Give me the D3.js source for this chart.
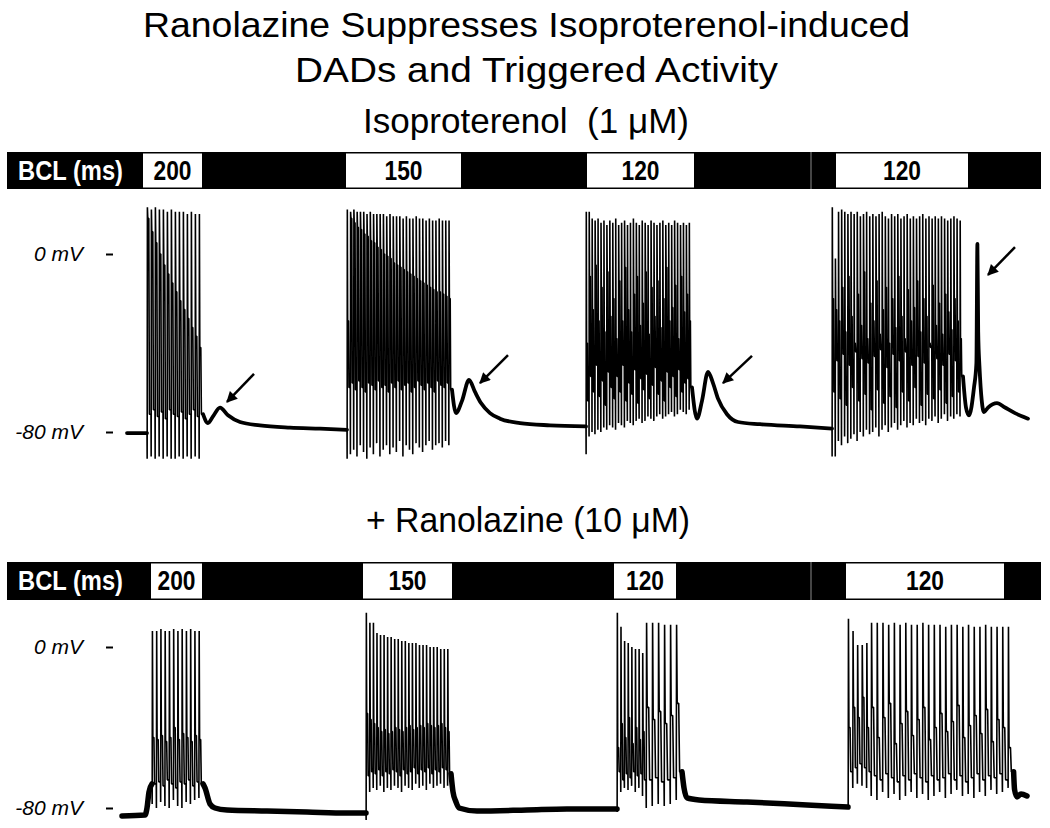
<!DOCTYPE html>
<html><head><meta charset="utf-8">
<script src="https://cdn.jsdelivr.net/npm/d3@7"></script>
<style>body{margin:0;background:#fff}svg{display:block}text{font-family:"Liberation Sans",Arial,sans-serif}</style>
</head><body>
<svg id="c" width="1050" height="828"></svg>
<script>
// ---------------- DATA ----------------
const titleLines = ["Ranolazine Suppresses Isoproterenol-induced", "DADs and Triggered Activity", "Isoproterenol  (1 \u03bcM)"];
const subTitle = "+ Ranolazine (10 \u03bcM)";
const bclTitle = "BCL (ms)";
const bclLabels = ["200", "150", "120", "120"];
const axisTicks = [0, -80];

// stimulation windows (s)
const isoBoxStart = [0.8, 10.95, 23.0, 35.45];
const isoBoxEnd   = [3.75, 16.7, 28.35, 42.05];
const ranBoxStart = [1.2, 11.8, 24.35, 35.95];
const ranBoxEnd   = [3.75, 16.25, 27.45, 43.85];

// beats: [artifact low, peak, plateau, trough] (mV)
const isoBeats200 = [[-92,21,16,-72],[-91,20,10,-70],[-92,21,5,-73],[-91,20,0,-71],[-92,20,-5,-74],[-91,19,-9,-70],[-92,20,-13,-72],[-92,19,-17,-73],[-91,19,-21,-71],[-92,19,-25,-74],[-91,18,-29,-72],[-92,19,-33,-70],[-91,18,-37,-73],[-92,18,-42,-72]];
const isoBeats150 = [[-92,20,-30,-60],[-90,19,16,-58],[-88,20,14,-61],[-91,19,12,-57],[-86,19,11,-60],[-89,19,9,-62],[-92,18,8,-58],[-87,19,6,-59],[-90,18,5,-61],[-85,18,3,-57],[-91,18,2,-60],[-88,18,0,-59],[-86,17,-1,-62],[-90,18,-2,-58],[-87,17,-4,-60],[-89,17,-5,-57],[-84,17,-6,-61],[-91,16,-7,-59],[-86,17,-8,-58],[-88,16,-9,-62],[-90,16,-10,-60],[-85,17,-11,-57],[-87,16,-12,-59],[-89,16,-13,-61],[-86,15,-14,-58],[-84,16,-15,-60],[-88,15,-16,-62],[-86,15,-17,-57],[-85,16,-17,-59],[-87,15,-18,-60],[-84,15,-19,-58],[-86,15,-20,-61]];
const isoBeats120a = [[-90,19,-40,-66],[-82,19,-10,-55],[-80,16,-25,-62],[-81,15,-5,-50],[-79,16,-30,-64],[-80,14,-15,-57],[-78,15,-35,-68],[-79,13,-8,-53],[-77,15,-28,-60],[-78,14,-20,-65],[-79,16,-38,-55],[-76,13,-12,-62],[-77,14,-30,-50],[-78,15,-6,-66],[-75,13,-25,-58],[-76,14,-35,-63],[-77,16,-18,-52],[-75,14,-10,-67],[-74,13,-32,-56],[-76,15,-22,-61],[-75,14,-8,-54],[-73,13,-36,-65],[-74,15,-15,-59],[-75,14,-28,-51],[-73,13,-12,-63],[-72,14,-33,-57],[-74,15,-20,-66],[-73,13,-6,-53],[-72,14,-30,-60],[-71,13,-24,-55],[-73,15,-14,-64],[-72,14,-38,-52],[-70,13,-10,-62],[-71,14,-26,-58],[-72,13,-18,-56],[-70,14,-30,-60]];
const isoBeats120b = [[-91,21,-20,-62],[-91,-2,-25,-48],[-84,19,-30,-65],[-86,20,-15,-45],[-82,19,-35,-68],[-85,18,-10,-50],[-83,19,-28,-60],[-81,18,-40,-44],[-84,19,-18,-66],[-80,17,-32,-47],[-82,18,-8,-63],[-79,19,-38,-49],[-81,17,-22,-70],[-80,18,-30,-46],[-78,17,-12,-61],[-82,18,-36,-43],[-79,19,-25,-67],[-77,17,-15,-51],[-80,16,-40,-64],[-78,18,-20,-45],[-76,17,-33,-69],[-79,18,-10,-48],[-77,16,-28,-62],[-75,17,-38,-44],[-78,18,-16,-66],[-76,16,-30,-50],[-77,17,-24,-60],[-74,16,-12,-46],[-76,17,-35,-68],[-75,18,-20,-49],[-77,16,-28,-63],[-74,17,-40,-42],[-75,16,-14,-65],[-73,17,-32,-47],[-76,16,-22,-61],[-74,17,-36,-50],[-72,16,-18,-67],[-75,15,-26,-45],[-73,16,-34,-64],[-74,17,-20,-48],[-72,16,-30,-62],[-73,15,-38,-55]];
const isoBurstStart = [1.0, 11.0, 22.95, 35.25];
const isoBurstEnd   = [3.8, 16.25, 28.25, 41.8];

// slow (quiescent) parts: [t (s), mV]
const isoPre     = [[0,-80.5],[1.0,-80.5]];
const isoPost200 = [[3.8,-72],[4.05,-76],[4.3,-73],[4.65,-69],[5.05,-72.5],[5.65,-75.5],[6.65,-77],[8.15,-78],[9.65,-78.5],[11.0,-79]];
const isoPost150 = [[16.25,-61],[16.45,-71.5],[16.75,-66],[17.1,-56.6],[17.4,-62],[17.7,-67],[18.15,-71.5],[18.65,-74],[19.65,-76],[21.15,-77],[22.95,-77.5]];
const isoPost120a = [[28.25,-60],[28.5,-74],[28.75,-66],[29.05,-53],[29.3,-58],[29.55,-65],[30,-72],[30.55,-75.5],[31.65,-76.5],[33.65,-77.5],[35.25,-78.5]];
const isoPost120b = [[41.8,-55],[41.95,-69],[42.1,-72.5],[42.35,-60],[42.47,-49],[42.52,4.5],[42.56,-35],[42.62,-50],[42.85,-71],[43.05,-69],[43.5,-67],[43.9,-69],[44.4,-71.5],[45.05,-74]];

const ranBeats200 = [[-78,8,-45,-68],[-80,8,-46,-67],[-77,9,-44,-69],[-79,8,-47,-66],[-80,8,-45,-68],[-76,9,-40,-70],[-79,8,-46,-67],[-80,9,-43,-68],[-77,8,-45,-66],[-78,9,-47,-69],[-76,8,-44,-67],[-75,8,-46,-68]];
const ranBeats150 = [[-86,17,-33,-64],[-72,12,-36,-62],[-70,12,-38,-63],[-71,7,-40,-61],[-69,6,-42,-64],[-72,6,-41,-62],[-70,5,-43,-63],[-71,5,-42,-61],[-69,4,-40,-62],[-70,4,-41,-64],[-72,3,-42,-61],[-69,3,-40,-63],[-70,2,-39,-62],[-71,2,-41,-60],[-68,2,-40,-63],[-70,1,-39,-61],[-69,1,-40,-62],[-71,1,-38,-60],[-68,0,-39,-63],[-70,0,-40,-61],[-69,0,-39,-62],[-68,-1,-38,-60],[-70,-1,-40,-61],[-69,-1,-42,-63]];
const ranBeats120a1 = [[-82,17,-50,-62],[-72,10,-38,-66],[-70,3,-45,-63],[-71,2,-35,-65],[-69,0,-48,-62],[-72,-1,-40,-64],[-70,-1,-46,-63],[-74,-3,-42,-66]];
const ranBeats120a2 = [[-80,12,-30,-66],[-79,12,-36,-65],[-78,12,-32,-67],[-79,11,-38,-66],[-78,11,-34,-65],[-76,11,-28,-62]];
const ranBeats120b1 = [[-80,14,-40,-62],[-70,8,-30,-60],[-68,1,-35,-58],[-69,1,-25,-60],[-70,2,-40,-62]];
const ranBeats120b2 = [[-74,12,-30,-64],[-76,12,-45,-66],[-72,12,-35,-63],[-75,11,-28,-65],[-73,12,-48,-67],[-76,11,-38,-64],[-74,12,-32,-66],[-72,11,-44,-63],[-75,11,-36,-65],[-73,12,-30,-67],[-76,11,-46,-64],[-74,11,-40,-66],[-72,11,-33,-65],[-75,10,-42,-63],[-73,11,-37,-66],[-71,11,-29,-64],[-74,10,-45,-67],[-73,11,-39,-65],[-75,10,-34,-63],[-72,10,-43,-66],[-74,11,-31,-64],[-71,10,-47,-65],[-73,10,-36,-63],[-72,10,-40,-66],[-70,10,-50,-62]];
const ranBurstStart = [1.25, 11.95, 24.5, 25.95, 36.05, 37.2];
const ranBurstEnd   = [3.8, 16.2, 25.95, 27.75, 37.2, 44.33];

const ranPre      = [[-0.25,-84],[0.9,-83.5],[1.0,-80],[1.1,-72],[1.25,-68]];
const ranPost200  = [[3.8,-68],[3.9,-70],[4.15,-78],[4.4,-80],[5,-81],[7,-81.5],[9,-82],[11,-82.5],[11.95,-82.5]];
const ranPost150  = [[16.2,-63],[16.3,-72],[16.45,-77],[16.6,-80],[17.5,-81.5],[20,-81],[22,-80.5],[24.5,-80.5]];
const ranPost120a = [[27.75,-62],[27.85,-70],[28.0,-75],[28.6,-76],[31,-77],[34,-78.5],[36.05,-79.5]];
const ranPost120b = [[44.33,-62],[44.38,-71],[44.5,-74.5],[44.7,-73],[45.0,-74]];

// arrows in data units: [tailT, tailV, headT, headV]
const isoArrows = [[6.35,-53.9,5.0,-66.5],[19.05,-45.4,17.65,-58.0],[31.25,-45.8,29.8,-58.0],[44.4,3.1,43.05,-9.4]];

// ---------------- DRAW ----------------
const svg = d3.select("#c");
svg.append("rect").attr("width",1050).attr("height",828).attr("fill","#fff");
const defs = svg.append("defs");
defs.append("marker").attr("id","ah").attr("viewBox","0 0 10 10").attr("refX",9).attr("refY",5)
  .attr("markerWidth",13).attr("markerHeight",11).attr("markerUnits","userSpaceOnUse").attr("orient","auto")
  .append("path").attr("d","M0,0 L10,5 L0,10 z").attr("fill","#000");

const x = d3.scaleLinear().domain([0,45]).range([127,1027]);
const yTop = d3.scaleLinear().domain([-80,0]).range([432,254]);
const yBot = d3.scaleLinear().domain([-80,0]).range([808,647]);

// titles
const titleX = [143, 295, 363], titleBase = [37, 82, 133], titleLen = [767, 483, 326];
titleLines.forEach((s,i)=>{
  svg.append("text").attr("x",titleX[i]).attr("y",titleBase[i]).attr("font-size",35)
    .attr("textLength",titleLen[i]).attr("lengthAdjust","spacingAndGlyphs")
    .style("white-space","pre").attr("fill","#000").text(s);
});
svg.append("text").attr("x",366).attr("y",532).attr("font-size",35)
  .attr("textLength",324).attr("lengthAdjust","spacingAndGlyphs").attr("fill","#000").text(subTitle);

function bar(y0, h, starts, ends, textBase, seams) {
  const g = svg.append("g");
  g.append("rect").attr("x",7).attr("y",y0).attr("width",1034).attr("height",h).attr("fill","#000");
  g.append("text").attr("x",18).attr("y",textBase).attr("font-size",27).attr("font-weight","bold")
    .attr("fill","#fff").attr("textLength",105).attr("lengthAdjust","spacingAndGlyphs").text(bclTitle);
  starts.forEach((s,i)=>{
    const x0 = x(s), x1 = x(ends[i]);
    g.append("rect").attr("x",x0).attr("y",y0+1.5).attr("width",x1-x0).attr("height",h-3).attr("fill","#fff");
    g.append("text").attr("x",(x0+x1)/2).attr("y",textBase).attr("text-anchor","middle")
      .attr("font-size",27).attr("font-weight","bold").attr("fill","#000")
      .attr("textLength",38).attr("lengthAdjust","spacingAndGlyphs").text(bclLabels[i]);
  });
  seams.forEach(sx=>{
    g.append("line").attr("x1",sx).attr("x2",sx).attr("y1",y0).attr("y2",y0+h).attr("stroke","#8a8a8a").attr("stroke-width",1);
  });
}
bar(152, 37, isoBoxStart, isoBoxEnd, 180, [811]);
bar(562, 38, ranBoxStart, ranBoxEnd, 590, [811]);

function axis(y) {
  const g = svg.append("g").attr("transform","translate(113,0)")
    .call(d3.axisLeft(y).tickValues(axisTicks).tickSize(7).tickPadding(23).tickFormat(d=>`${d} mV`));
  g.select(".domain").remove();
  g.selectAll(".tick line").attr("stroke","#000").attr("stroke-width",2);
  g.selectAll(".tick text").attr("font-size",21).attr("font-style","italic")
    .attr("font-family","'Liberation Sans',Arial,sans-serif").attr("fill","#000");
}
axis(yTop); axis(yBot);

function beatPoints(beats, start, end, prev) {
  const dt = (end - start) / beats.length;
  const pts = [[start, prev]];
  beats.forEach((b,i)=>{
    const t = start + i*dt; const [lo,pk,pl,tr] = b;
    pts.push([t+0.04*dt,lo],[t+0.1*dt,pk],[t+0.2*dt,pl],[t+0.45*dt,pl],[t+0.6*dt,tr],[t+dt,tr]);
  });
  return pts;
}

function panel(y, slow, bursts, starts, ends, slowW) {
  const slowLine = d3.line().x(d=>x(d[0])).y(d=>y(d[1])).curve(d3.curveMonotoneX);
  const fastLine = d3.line().x(d=>x(d[0])).y(d=>y(d[1]));
  svg.append("g").selectAll("path").data(slow).join("path")
    .attr("d",slowLine).attr("fill","none").attr("stroke","#000").attr("stroke-width",slowW)
    .attr("stroke-linejoin","round").attr("stroke-linecap","round");
  const fast = bursts.map((b,i)=>{
    let prev = null;
    slow.forEach(s=>{ const last = s[s.length-1]; if (Math.abs(last[0]-starts[i])<0.06) prev = last[1]; });
    if (prev === null) prev = bursts[i-1][bursts[i-1].length-1][3];
    return beatPoints(b, starts[i], ends[i], prev);
  });
  svg.append("g").selectAll("path").data(fast).join("path")
    .attr("d",fastLine).attr("fill","none").attr("stroke","#000").attr("stroke-width",1.6)
    .attr("stroke-linejoin","bevel");
}

panel(yTop, [isoPre, isoPost200, isoPost150, isoPost120a, isoPost120b],
  [isoBeats200, isoBeats150, isoBeats120a, isoBeats120b], isoBurstStart, isoBurstEnd, 3.8);
panel(yBot, [ranPre, ranPost200, ranPost150, ranPost120a, ranPost120b],
  [ranBeats200, ranBeats150, ranBeats120a1, ranBeats120a2, ranBeats120b1, ranBeats120b2], ranBurstStart, ranBurstEnd, 5.5);

svg.append("g").selectAll("line").data(isoArrows).join("line")
  .attr("x1",d=>x(d[0])).attr("y1",d=>yTop(d[1])).attr("x2",d=>x(d[2])).attr("y2",d=>yTop(d[3]))
  .attr("stroke","#000").attr("stroke-width",2.5).attr("marker-end","url(#ah)");
</script>
</body></html>
